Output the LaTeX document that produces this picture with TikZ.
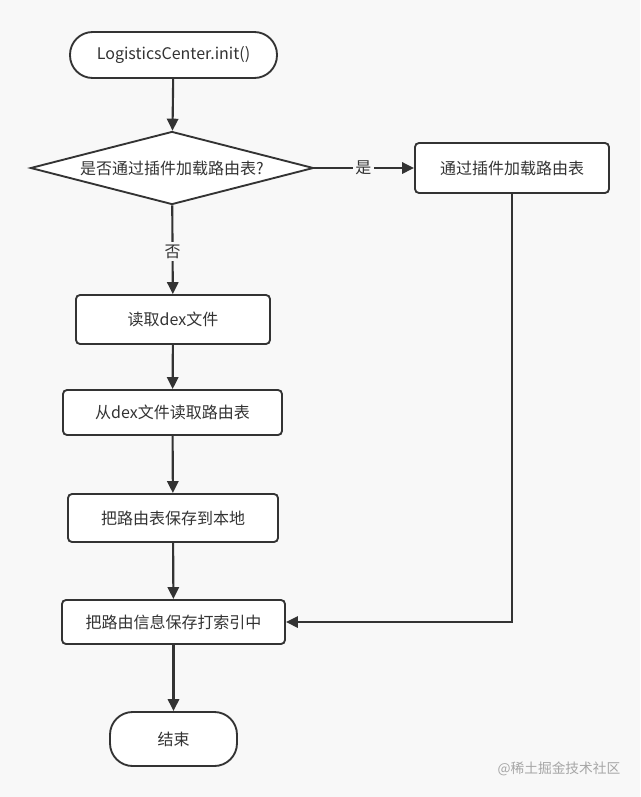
\documentclass[tikz,border=0pt]{standalone}
\usepackage{fontspec}
\setmainfont{Noto Sans CJK SC}
\usetikzlibrary{shapes.geometric,arrows.meta}
\definecolor{bg}{HTML}{F8F8F8}
\definecolor{ln}{HTML}{333333}
\definecolor{tx}{HTML}{333333}
\begin{document}
\begin{tikzpicture}[x=0.75pt,y=-0.75pt,
  every node/.style={font=\fontsize{12pt}{14pt}\selectfont, text=tx},
  box/.style={draw=ln, line width=1.4pt, fill=white, rounded corners=3pt, inner sep=0pt},
  term/.style={draw=ln, line width=1.4pt, fill=white, rounded corners=17pt, inner sep=0pt},
  conn/.style={draw=ln, line width=1.6pt, -{Triangle[length=9pt,width=8.5pt]}},
  lbl/.style={fill=bg, inner sep=2pt}]
\fill[bg] (0,0) rectangle (640,797);
\useasboundingbox (0,0) rectangle (640,797);
\node[term, minimum width=207*0.75pt, minimum height=46*0.75pt] (start) at (173.5,55) {LogisticsCenter.init()};
\node[draw=ln, line width=1.4pt, fill=white, diamond, aspect=3.88, inner sep=0pt, minimum width=283*0.75pt, minimum height=73*0.75pt] (dec) at (172,168) {是否通过插件加载路由表?};
\node[box, minimum width=194*0.75pt, minimum height=50*0.75pt] (plug) at (512,168) {通过插件加载路由表};
\node[box, minimum width=194*0.75pt, minimum height=49*0.75pt] (b1) at (173,319.5) {读取dex文件};
\node[box, minimum width=219*0.75pt, minimum height=45*0.75pt] (b2) at (172.5,412.5) {从dex文件读取路由表};
\node[box, minimum width=210*0.75pt, minimum height=48*0.75pt] (b3) at (173,518) {把路由表保存到本地};
\node[box, minimum width=223*0.75pt, minimum height=44*0.75pt] (b4) at (173.5,622) {把路由信息保存打索引中};
\node[term, minimum width=127*0.75pt, minimum height=54*0.75pt] (end) at (173.5,739) {结束};
\coordinate (corner) at (plug.south |- b4.east);
\draw[conn] (start) -- (dec);
\draw[conn] (dec) -- node[lbl, pos=0.49] {是} (plug);
\draw[conn] (dec) -- node[lbl, pos=0.52] {否} (b1);
\draw[conn] (b1) -- (b2);
\draw[conn] (b2) -- (b3);
\draw[conn] (b3) -- (b4);
\draw[conn] (b4) -- (end);
\draw[conn] (plug.south) -- (corner) -- (b4.east);
\node[text=black!35, font=\fontsize{10.3pt}{12pt}\selectfont] (wm) at (559,769) {@稀土掘金技术社区};
\end{tikzpicture}
\end{document}
